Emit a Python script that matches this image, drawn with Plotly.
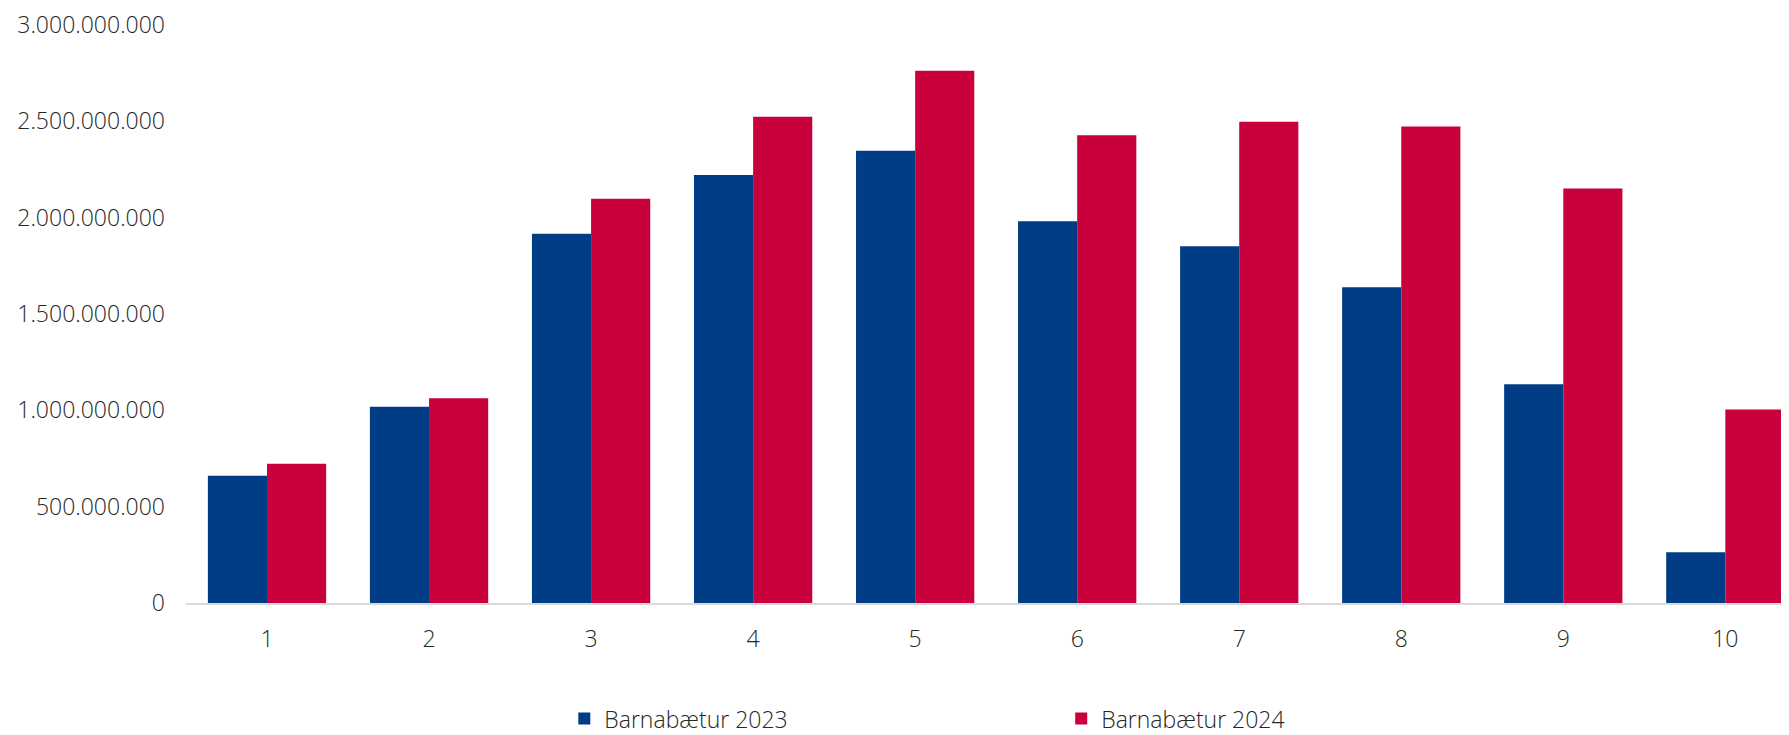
import plotly.graph_objects as go

categories = [1, 2, 3, 4, 5, 6, 7, 8, 9, 10]
tick_labels = ["1", "2", "3", "4", "5", "6", "7", "8", "9", "10"]
values_2023 = [661e6, 1018e6, 1917e6, 2222e6, 2347e6, 1981e6, 1851e6, 1639e6, 1136e6, 264e6]
values_2024 = [723e6, 1063e6, 2098e6, 2524e6, 2762e6, 2428e6, 2498e6, 2473e6, 2151e6, 1004e6]
y_ticks = [0, 500e6, 1000e6, 1500e6, 2000e6, 2500e6, 3000e6]

BLUE = "#003d85"
RED = "#c8003c"
FONT = "Open Sans"
TXT = "#262626"
FS = 23

fig = go.Figure()
fig.add_trace(go.Bar(x=categories, y=values_2023, name="Barnabætur 2023",
                     marker=dict(color=BLUE, line=dict(width=0)), legend="legend",
                     showlegend=True))
fig.add_trace(go.Bar(x=categories, y=values_2024, name="Barnabætur 2024",
                     marker=dict(color=RED, line=dict(width=0)), legend="legend2",
                     showlegend=True))

legend_common = dict(orientation="h", yanchor="middle", xanchor="left",
                     font=dict(family=FONT, size=FS, color=TXT, weight=300),
                     bgcolor="rgba(0,0,0,0)", itemwidth=30)

fig.update_layout(
    width=1781, height=727,
    margin=dict(l=178, r=0, t=17, b=132, autoexpand=False),
    paper_bgcolor="white", plot_bgcolor="white",
    barmode="group", bargap=0.27, bargroupgap=0,
    separators=",.",
    showlegend=True,
    font=dict(family=FONT, size=FS, color=TXT, weight=300),
    legend=dict(x=0.236, y=-0.2, **legend_common),
    legend2=dict(x=0.546, y=-0.2, **legend_common),
    xaxis=dict(range=[0.5, 10.393], tickmode="array", tickvals=categories,
               ticktext=tick_labels, showgrid=False, zeroline=False,
               showline=True, linecolor="#d9d9d9", linewidth=2, ticks="",
               ticklabelstandoff=14, automargin=False,
               tickfont=dict(family=FONT, size=FS, color=TXT, weight=300)),
    yaxis=dict(range=[0, 3e9], tickmode="array", tickvals=y_ticks, tickformat=",d",
               showgrid=False, zeroline=False, showline=False, ticks="",
               ticklabelstandoff=20, automargin=False, ticklabeloverflow="allow",
               tickfont=dict(family=FONT, size=FS, color=TXT, weight=300)),
)

fig.write_html("out.html")
